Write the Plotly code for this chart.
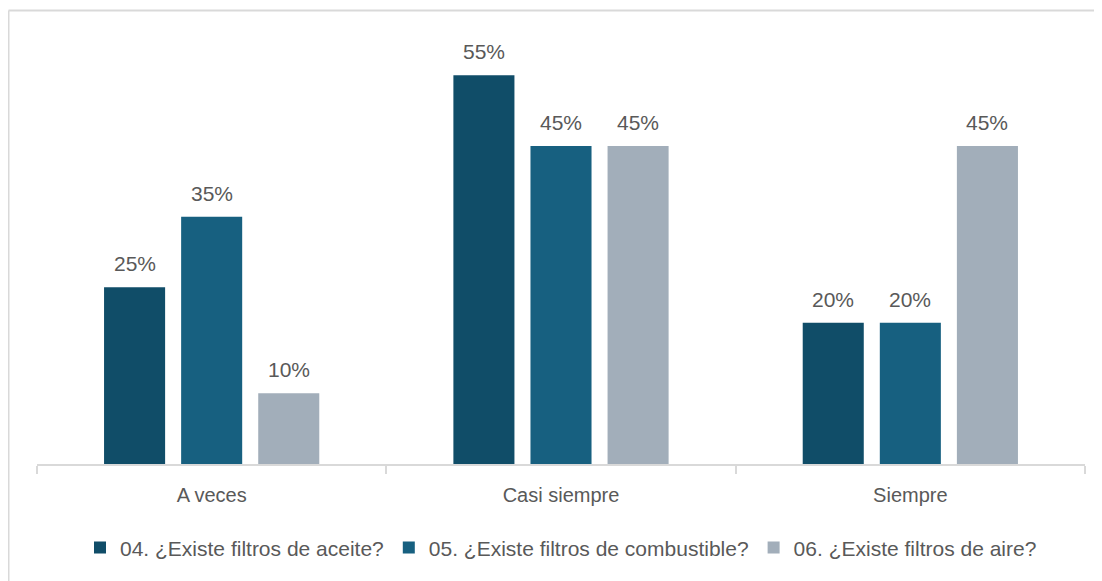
import plotly.graph_objects as go

categories = ["A veces", "Casi siempre", "Siempre"]
series_names = [
    "04. ¿Existe filtros de aceite?",
    "05. ¿Existe filtros de combustible?",
    "06. ¿Existe filtros de aire?",
]
aceite = [25, 55, 20]
combustible = [35, 45, 20]
aire = [10, 45, 45]
colors = ["#104D68", "#176080", "#A2AEBA"]

W, H = 1102, 581
ML, MR, MT, MB = 29, 25, 32, 125
BARGAP, GROUPGAP = 0.338, 0.208
FONT = "Liberation Sans, Arial, sans-serif"
TXT = "#595959"

fig = go.Figure()
series = [aceite, combustible, aire]
for name, vals, col in zip(series_names, series, colors):
    fig.add_trace(go.Bar(x=categories, y=vals, name=name, marker_color=col,
                         marker_line_width=0))

# data labels as annotations
plot_w = W - ML - MR
cat_w = plot_w / len(categories)
slot = cat_w * (1 - BARGAP) / len(series)
for i, vals in enumerate(series):
    off = (i - (len(series) - 1) / 2) * slot
    for c, v in zip(categories, vals):
        fig.add_annotation(x=c, y=v, text=f"{v}%", showarrow=False,
                           xshift=off, yshift=10, yanchor="bottom",
                           font=dict(family=FONT, size=21, color=TXT))

# outer chart border (top & left visible)
px = lambda x: (x - ML) / plot_w
py = lambda y: 1 - (y - MT) / (H - MT - MB)
border = dict(color="#D9D9D9", width=2)
fig.add_shape(type="line", xref="paper", yref="paper",
              x0=px(0.5), x1=px(1110), y0=py(2.5), y1=py(2.5), line=border)
fig.add_shape(type="line", xref="paper", yref="paper",
              x0=px(0.5), x1=px(0.5), y0=py(2.5), y1=py(590), line=border)

fig.update_layout(
    width=W, height=H,
    margin=dict(l=ML, r=MR, t=MT, b=MB),
    paper_bgcolor="white", plot_bgcolor="white",
    barmode="group", bargap=BARGAP, bargroupgap=GROUPGAP,
    font=dict(family=FONT, size=20, color=TXT),
    legend=dict(orientation="h", x=0.5, xanchor="center", y=-0.198, yanchor="middle",
                font=dict(family=FONT, size=21, color=TXT), traceorder="normal"),
    xaxis=dict(showline=True, linecolor="#D9D9D9", linewidth=2,
               ticks="outside", tickson="boundaries", ticklen=8, tickcolor="#D9D9D9",
               tickwidth=2, showgrid=False, ticklabelstandoff=12,
               tickfont=dict(family=FONT, size=20, color=TXT)),
    yaxis=dict(range=[0, 60], visible=False, showgrid=False),
)

fig.write_html("out.html")
